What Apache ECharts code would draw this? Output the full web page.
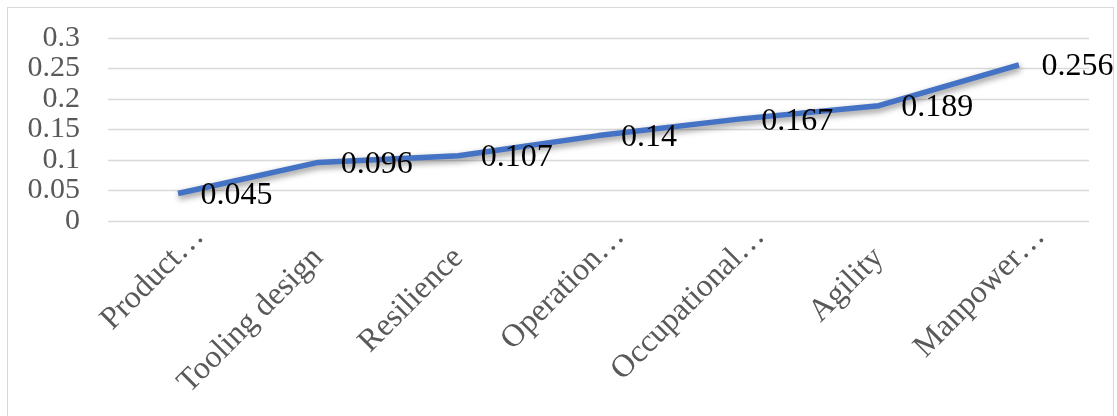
<!DOCTYPE html>
<html>
<head>
<meta charset="utf-8">
<script src="https://cdn.jsdelivr.net/npm/echarts@6/dist/echarts.min.js"></script>
<style>
html,body{margin:0;padding:0;background:#fff;}
#frame{position:absolute;left:7px;top:7px;width:1107px;height:420px;border:1px solid #d9d9d9;box-sizing:border-box;}
#chart{position:absolute;left:0;top:0;width:1117px;height:416px;}
</style>
</head>
<body>
<div id="frame"></div>
<div id="chart"></div>
<script>
const categories = ["Product…", "Tooling design", "Resilience", "Operation…", "Occupational…", "Agility", "Manpower…"];
const values = [0.045, 0.096, 0.107, 0.14, 0.167, 0.189, 0.256];
const yTicks = [0, 0.05, 0.1, 0.15, 0.2, 0.25, 0.3];

const chart = echarts.init(document.getElementById('chart'), null, {renderer: 'canvas'});
chart.setOption({
  animation: false,
  backgroundColor: 'transparent',
  grid: {left: 108, right: 28, top: 38, bottom: 195, containLabel: false},
  xAxis: {
    type: 'category',
    data: categories,
    boundaryGap: true,
    axisLine: {show: false},
    axisTick: {show: false},
    axisLabel: {
      rotate: 45,
      margin: 32,
      interval: 0,
      color: '#595959',
      fontFamily: 'Liberation Serif',
      fontSize: 32,
      formatter: function (v) {
        if (v.endsWith('…')) {
          return '{m|' + v.slice(0, -1) + '}{e|…}';
        }
        return '{m|' + v + '}';
      },
      rich: {
        m: {color: '#595959', fontFamily: 'Liberation Serif', fontSize: 32},
        e: {color: '#595959', fontFamily: 'Liberation Serif', fontSize: 32, padding: [0, -30, 0, 0]}
      }
    }
  },
  yAxis: {
    type: 'value',
    min: 0,
    max: 0.3,
    interval: 0.05,
    axisLine: {show: false},
    axisTick: {show: false},
    splitLine: {lineStyle: {color: '#d9d9d9', width: 1.3}},
    axisLabel: {
      color: '#595959',
      fontFamily: 'Liberation Serif',
      fontSize: 30,
      margin: 28,
      showMinLabel: true,
      showMaxLabel: true,
      hideOverlap: false,
      formatter: function (v) {
        return String(Math.round(v * 100) / 100);
      }
    }
  },
  series: [{
    type: 'line',
    data: values,
    symbol: 'circle',
    symbolSize: 1,
    showSymbol: true,
    itemStyle: {color: '#4472C4', opacity: 0},
    lineStyle: {
      color: '#4472C4',
      width: 5.5,
      shadowColor: 'rgba(0,0,0,0.45)',
      shadowBlur: 6,
      shadowOffsetX: 1,
      shadowOffsetY: 3
    },
    label: {
      show: true,
      position: 'right',
      distance: 22,
      color: '#000',
      opacity: 1,
      fontFamily: 'Liberation Serif',
      fontSize: 32,
      offset: [0, 2]
    }
  }]
});
</script>
</body>
</html>
